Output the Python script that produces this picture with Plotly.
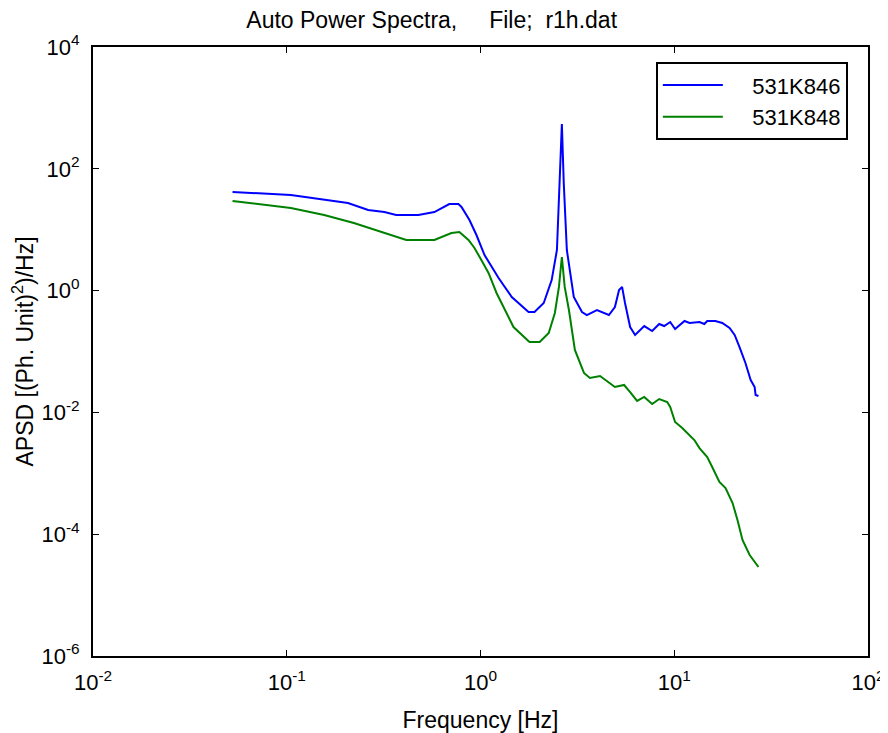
import plotly.graph_objects as go

# Auto power spectra
freq_846 = [0.0525, 0.105, 0.207, 0.263, 0.319, 0.367, 0.478, 0.578, 0.690, 0.769,
            0.798, 0.877, 0.953, 1.049, 1.24, 1.45, 1.77, 1.90, 2.12, 2.33,
            2.48, 2.57, 2.63, 2.69, 2.79, 3.03, 3.34, 3.54, 3.99, 4.60,
            4.94, 5.19, 5.38, 5.57, 5.92, 6.28, 7.00, 7.69, 8.36, 8.87,
            9.53, 10.1, 11.3, 12.0, 13.5, 14.3, 14.8, 16.3, 17.7, 19.3,
            20.5, 21.7, 23.3, 24.8, 26.0, 26.3, 27.2]
apsd_846 = [41.6, 37.2, 27.4, 21.1, 19.5, 17.4, 17.4, 19.5, 26.4, 26.4,
            23.6, 14.4, 8.18, 3.84, 1.61, 0.785, 0.445, 0.445, 0.625, 1.49,
            4.64, 58.5, 545, 58.5, 4.64, 0.785, 0.445, 0.397, 0.480, 0.397,
            0.538, 1.02, 1.15, 0.625, 0.252, 0.187, 0.262, 0.217, 0.283, 0.262,
            0.305, 0.234, 0.317, 0.294, 0.305, 0.283, 0.317, 0.317, 0.294, 0.243,
            0.187, 0.119, 0.0648, 0.0340, 0.0261, 0.0193, 0.0186]

freq_848 = [0.0525, 0.105, 0.156, 0.222, 0.414, 0.578, 0.708, 0.778, 0.867, 0.931,
            1.01, 1.10, 1.21, 1.32, 1.48, 1.79, 2.02, 2.25, 2.42, 2.54,
            2.63, 2.72, 2.86, 3.07, 3.42, 3.67, 4.14, 4.94, 5.51, 5.92,
            6.43, 7.00, 7.69, 8.36, 9.20, 9.53, 10.1, 11.0, 12.0, 12.7,
            13.5, 14.8, 15.7, 17.1, 18.4, 20.0, 21.2, 22.5, 24.5, 27.2]
apsd_848 = [29.6, 22.7, 17.4, 12.9, 6.78, 6.78, 8.83, 9.17, 6.78, 5.01,
            3.18, 1.95, 0.914, 0.518, 0.252, 0.143, 0.143, 0.201, 0.429, 1.15,
            3.56, 1.15, 0.480, 0.106, 0.0444, 0.0367, 0.0396, 0.0261, 0.0282, 0.0216,
            0.0154, 0.0179, 0.0137, 0.0166, 0.0148, 0.0123, 0.00695, 0.00555, 0.00426, 0.00352,
            0.00260, 0.00185, 0.00127, 0.000719, 0.000574, 0.000325, 0.000171, 0.0000804, 0.0000455, 0.0000289]

x_ticks = [0.01, 0.1, 1, 10, 100]
x_labels = ["10<sup>-2</sup>", "10<sup>-1</sup>", "10<sup>0</sup>", "10<sup>1</sup>", "10<sup>2</sup>"]
y_ticks = [1e-6, 1e-4, 1e-2, 1, 1e2, 1e4]
y_labels = ["10<sup>-6</sup>", "10<sup>-4</sup>", "10<sup>-2</sup>", "10<sup>0</sup>", "10<sup>2</sup>", "10<sup>4</sup>"]

FONT = "Liberation Sans, Arial, sans-serif"
FS = 23

fig = go.Figure()

fig.add_trace(go.Scatter(
    x=freq_846, y=apsd_846, mode="lines",
    name="    531K846",
    line=dict(color="#0000FF", width=2),
))
fig.add_trace(go.Scatter(
    x=freq_848, y=apsd_848, mode="lines",
    name="    531K848",
    line=dict(color="#008000", width=2),
))

axis_style = dict(
    type="log",
    showgrid=False,
    zeroline=False,
    showline=True,
    linecolor="black",
    linewidth=2,
    mirror="allticks",
    ticks="inside",
    ticklen=6,
    tickwidth=1,
    tickcolor="black",
    tickfont=dict(family=FONT, size=22, color="black"),
)

fig.update_xaxes(axis_style, range=[-2, 2], tickvals=x_ticks, ticktext=x_labels,
                 ticklabelstandoff=6,
                 title=dict(text="Frequency [Hz]", font=dict(family=FONT, size=FS, color="black"),
                            standoff=19))
fig.update_yaxes(axis_style, range=[-6, 4], tickvals=y_ticks, ticktext=y_labels,
                 ticklabelstandoff=7,
                 title=dict(text="APSD [(Ph. Unit)<sup>2</sup>)/Hz]",
                            font=dict(family=FONT, size=FS, color="black"), standoff=10))

# the page body adds 8px, so the figure is 8px smaller than the window
fig.update_layout(
    width=880,
    height=725,
    margin=dict(l=85, r=20, t=39, b=77, autoexpand=False),
    plot_bgcolor="white",
    paper_bgcolor="white",
    font=dict(family=FONT, size=FS, color="black"),
    title=dict(text="Auto Power Spectra,     File;  r1h.dat",
               x=0.437, xref="paper", xanchor="center",
               y=1 - 12 / 725, yref="container", yanchor="middle",
               font=dict(family=FONT, size=FS, color="black")),
    showlegend=True,
    legend=dict(
        x=0.974, y=0.975, xanchor="right", yanchor="top",
        bgcolor="white", bordercolor="black", borderwidth=2,
        font=dict(family=FONT, size=22, color="black"),
        itemwidth=60, tracegroupgap=0,
    ),
)

fig.write_html("out.html")
